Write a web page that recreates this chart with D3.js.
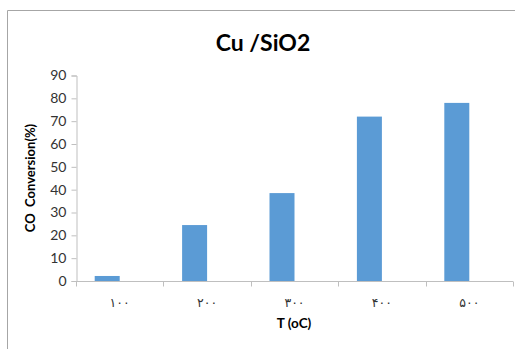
<!DOCTYPE html>
<html>
<head>
<meta charset="utf-8">
<script src="https://cdn.jsdelivr.net/npm/d3@7"></script>
<style>
  html, body { margin: 0; padding: 0; background: #fff; }
  svg { display: block; }
</style>
</head>
<body>
<svg id="chart" width="515" height="349"></svg>
<script>
// Temperatures (Persian digits as printed on the axis) and CO conversion values
const categories = ["۱۰۰", "۲۰۰", "۳۰۰", "۴۰۰", "۵۰۰"];
const conversion = [2.2, 24.5, 38.5, 72, 78];
const yTicks = [0, 10, 20, 30, 40, 50, 60, 70, 80, 90];

const titleText = "Cu /SiO2";
const yTitle = "CO  Conversion(%)";
const xTitle = "T (oC)";

const svg = d3.select("#chart");
const W = 515, H = 349;
const margin = { left: 76, right: 2, top: 75.5, bottom: 68 };

// Chart frame (top and left edges)
svg.append("path")
  .attr("d", `M7.5,${H} V10.5 H${W}`)
  .attr("fill", "none")
  .attr("stroke", "#a6a6a6")
  .attr("stroke-width", 1);

const x = d3.scaleBand()
  .domain(categories)
  .range([margin.left, W - margin.right])
  .paddingInner(0).paddingOuter(0);

const y = d3.scaleLinear()
  .domain([0, 90])
  .range([H - margin.bottom, margin.top]);

// Bars sit in the first slot of a two-slot cluster
const bw = x.bandwidth();
const barW = bw * 0.286;
const barOff = bw * 0.214;

svg.append("g")
  .selectAll("rect")
  .data(categories)
  .join("rect")
  .attr("x", (d) => x(d) + barOff)
  .attr("y", (d, i) => y(conversion[i]))
  .attr("width", barW)
  .attr("height", (d, i) => y(0) - y(conversion[i]))
  .attr("fill", "#5b9bd5");

// Y axis
const yAxis = svg.append("g")
  .attr("transform", `translate(${margin.left + 0.5},0)`)
  .call(d3.axisLeft(y).tickValues(yTicks).tickSize(5).tickPadding(5));
yAxis.select(".domain").attr("stroke", "#bfbfbf");
yAxis.selectAll(".tick line").attr("stroke", "#bfbfbf");
yAxis.selectAll(".tick text")
  .attr("font-family", "Lato, 'Open Sans', sans-serif")
  .attr("font-size", 14)
  .attr("fill", "#333");

// X axis with ticks on the category boundaries
const xAxisG = svg.append("g")
  .attr("transform", `translate(0,${y(0) + 0.5})`);
xAxisG.append("line")
  .attr("x1", margin.left).attr("x2", W - margin.right)
  .attr("stroke", "#bfbfbf");
const bounds = categories.map((d) => x(d)).concat([x(categories[categories.length - 1]) + bw]);
xAxisG.selectAll("line.tk")
  .data(bounds)
  .join("line")
  .attr("class", "tk")
  .attr("x1", (d) => Math.round(d) + 0.5)
  .attr("x2", (d) => Math.round(d) + 0.5)
  .attr("y1", 0).attr("y2", 5)
  .attr("stroke", "#bfbfbf");
xAxisG.selectAll("text")
  .data(categories)
  .join("text")
  .attr("x", (d) => x(d) + bw / 2)
  .attr("y", 25)
  .attr("text-anchor", "middle")
  .attr("font-family", "'DejaVu Sans', sans-serif")
  .attr("font-size", 12.5)
  .attr("letter-spacing", 4)
  .attr("fill", "#333")
  .text((d) => d);

// Titles
svg.append("text")
  .attr("x", 263).attr("y", 51)
  .attr("text-anchor", "middle")
  .attr("font-family", "Lato, 'Open Sans', sans-serif")
  .attr("font-weight", "bold")
  .attr("font-size", 23)
  .attr("fill", "#000")
  .text(titleText);

svg.append("text")
  .attr("transform", `translate(35,178) rotate(-90)`)
  .attr("text-anchor", "middle")
  .attr("font-family", "Lato, 'Open Sans', sans-serif")
  .attr("font-weight", "bold")
  .attr("font-size", 13)
  .attr("fill", "#000")
  .attr("xml:space", "preserve")
  .style("white-space", "pre")
  .text(yTitle);

svg.append("text")
  .attr("x", 294).attr("y", 328)
  .attr("text-anchor", "middle")
  .attr("font-family", "Lato, 'Open Sans', sans-serif")
  .attr("font-weight", "bold")
  .attr("font-size", 13.5)
  .attr("fill", "#000")
  .text(xTitle);
</script>
</body>
</html>
